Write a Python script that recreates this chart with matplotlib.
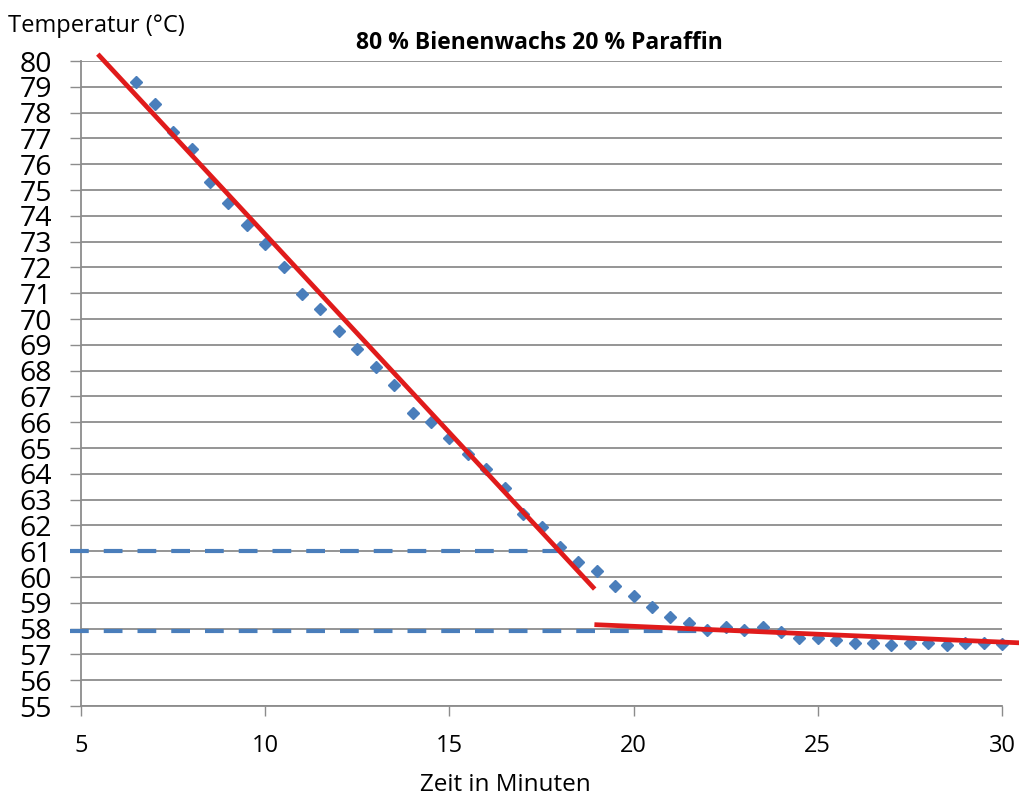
import matplotlib
matplotlib.use('Agg')
import matplotlib.pyplot as plt

# measured cooling curve (minutes, deg C)
zeit = [6.5, 7.0, 7.5, 8.0, 8.5, 9.0, 9.5, 10.0, 10.5, 11.0, 11.5, 12.0,
        12.5, 13.0, 13.5, 14.0, 14.5, 15.0, 15.5, 16.0, 16.5, 17.0, 17.5, 18.0,
        18.5, 19.0, 19.5, 20.0, 20.5, 21.0, 21.5, 22.0, 22.5, 23.0, 23.5, 24.0,
        24.5, 25.0, 25.5, 26.0, 26.5, 27.0, 27.5, 28.0, 28.5, 29.0, 29.5, 30.0]
temp = [79.2, 78.35, 77.25, 76.6, 75.3, 74.5, 73.65, 72.9, 72.0, 70.95, 70.4, 69.55,
        68.85, 68.15, 67.45, 66.35, 66.0, 65.4, 64.75, 64.2, 63.45, 62.45, 61.95, 61.15,
        60.6, 60.25, 59.65, 59.25, 58.85, 58.45, 58.2, 57.95, 58.05, 57.95, 58.05, 57.85,
        57.65, 57.65, 57.55, 57.45, 57.45, 57.35, 57.45, 57.45, 57.35, 57.45, 57.45, 57.4]

# hand-drawn fit lines
fit1_x = [5.5, 18.9]
fit1_y = [80.2, 59.6]
fit2_x = [19.0, 30.45]
fit2_y = [58.15, 57.45]

# dashed marker lines
dash1_x = [4.7, 18.0]
dash1_y = [61.0, 61.0]
dash2_x = [4.7, 22.0]
dash2_y = [57.9, 57.9]

xticks = [5, 10, 15, 20, 25, 30]
yticks = list(range(55, 81))

plt.rcParams['font.family'] = ['Open Sans', 'DejaVu Sans']

fig = plt.figure(figsize=(10.19, 7.98), dpi=100)
ax = fig.add_axes([81 / 1019, 1 - 706 / 798, (1002 - 81) / 1019, (706 - 61) / 798])

grid_col = '#8c8c8c'
ax.set_xlim(5, 30)
ax.set_ylim(55, 80)
ax.set_yticks(yticks)
ax.set_xticks(xticks)
ax.yaxis.grid(True, color=grid_col, linewidth=1.3)
ax.set_axisbelow(True)
for s in ['top', 'right']:
    ax.spines[s].set_visible(False)
ax.spines['left'].set_color(grid_col)
ax.spines['bottom'].set_color(grid_col)
ax.spines['left'].set_linewidth(1.3)
ax.spines['bottom'].set_linewidth(1.3)
ax.tick_params(axis='y', length=8, width=1.0, color=grid_col, labelsize=20.5, pad=13)
ax.tick_params(axis='x', length=7.5, width=1.0, color=grid_col, labelsize=17, pad=13)

ax.plot(dash1_x, dash1_y, color='#4a7ebb', linewidth=3, dashes=(4.5, 3.6), clip_on=False, zorder=3)
ax.plot(dash2_x, dash2_y, color='#4a7ebb', linewidth=3, dashes=(4.5, 3.6), clip_on=False, zorder=3)

ax.plot(zeit, temp, linestyle='none', marker='D', markersize=6.2,
        color='#4a7ebb', clip_on=False, zorder=4)

ax.plot(fit1_x, fit1_y, color='#e01b1b', linewidth=3.4, clip_on=False, zorder=5)
ax.plot(fit2_x, fit2_y, color='#e01b1b', linewidth=3.4, clip_on=False, zorder=5)

fig.text(0.529, 0.946, '80 % Bienenwachs 20 % Paraffin', ha='center', va='center',
         fontsize=16.5, fontweight='bold')
fig.text(0.008, 0.968, 'Temperatur (°C)', ha='left', va='center', fontsize=17)
fig.text(0.496, 0.016, 'Zeit in Minuten', ha='center', va='center', fontsize=17.5)

fig.savefig('out.png', dpi=100)
